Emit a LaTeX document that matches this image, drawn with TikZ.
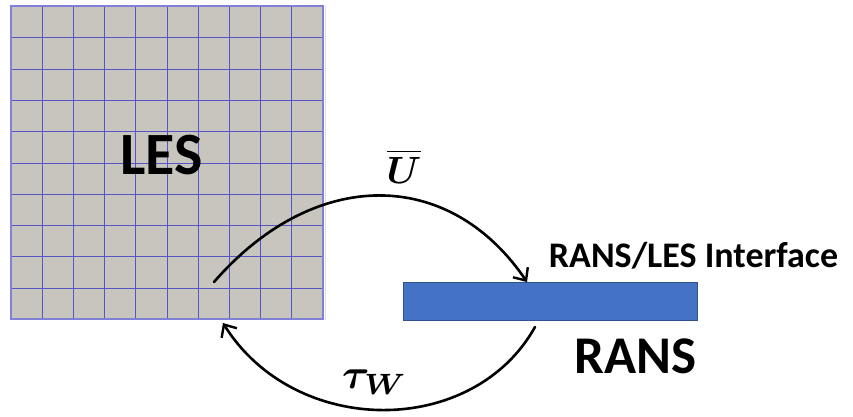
\documentclass[tikz,border=0pt]{standalone}
\usepackage{graphicx}
\usepackage{amsmath,bm}
\usepackage{fontspec}
\setmainfont{Carlito}
\usetikzlibrary{arrows.meta}
\definecolor{cellfill}{RGB}{200,197,190}
\definecolor{gridblue}{RGB}{85,85,200}
\definecolor{ifill}{RGB}{68,114,196}
\definecolor{iedge}{RGB}{47,82,143}
\tikzset{
  flow/.style={line width=2.6pt, line cap=round,
    -{Straight Barb[length=10pt,width=18pt,line width=2.4pt]}},
  lab/.style={inner sep=0pt, anchor=base, font=\bfseries},
  gridline/.style={draw=gridblue, line width=1pt},
}
\begin{document}
\begin{tikzpicture}[x=1pt,y=-1pt]
\useasboundingbox (0,0) rectangle (853,417);
% LES grid
\fill[cellfill] (11,6) rectangle (323,319);
\foreach \i in {1,...,9}{
  \draw[gridline] ({11+31.2*\i},6) -- ({11+31.2*\i},319);
  \draw[gridline] (11,{6.5+31.3*\i}) -- (323,{6.5+31.3*\i});
}
\draw[draw=gridblue!75, line width=1.8pt] (11,6) rectangle (323,319);
\draw[black!12, line width=1pt] (325.5,6) -- (325.5,320);
% interface bar
\node[draw=iedge, fill=ifill, line width=1pt, minimum width=294pt, minimum height=38pt,
  inner sep=0pt] (iface) at (550,301) {};
% labels
\node[lab, font=\bfseries\fontsize{60}{60}\selectfont] (les) at (161.5,174) {LES};
\node[lab, font=\bfseries\fontsize{53}{53}\selectfont] (rans) at (635.5,373) {RANS};
\node[lab, font=\bfseries\fontsize{36}{36}\selectfont] (ilab) at (693.5,267) {RANS/LES Interface};
\node[inner sep=0pt, anchor=base] (ubar) at (404,183) {\scalebox{3.8}{$\bm{\overline{U}}$}};
\node[inner sep=0pt, anchor=base west] (tau) at (342,388) {\scalebox{4.2}{$\bm{\tau}_{\bm{W}}$}};
% arcs
\coordinate (s1) at (214,282);
\coordinate (e1) at (527,282);
\coordinate (s2) at (535,327);
\coordinate (e2) at (223,323);
\draw[flow] (s1) .. controls (314,167) and (449,167) .. (e1);
\draw[flow] (s2) .. controls (473,438) and (295,438) .. (e2);
\end{tikzpicture}
\end{document}
